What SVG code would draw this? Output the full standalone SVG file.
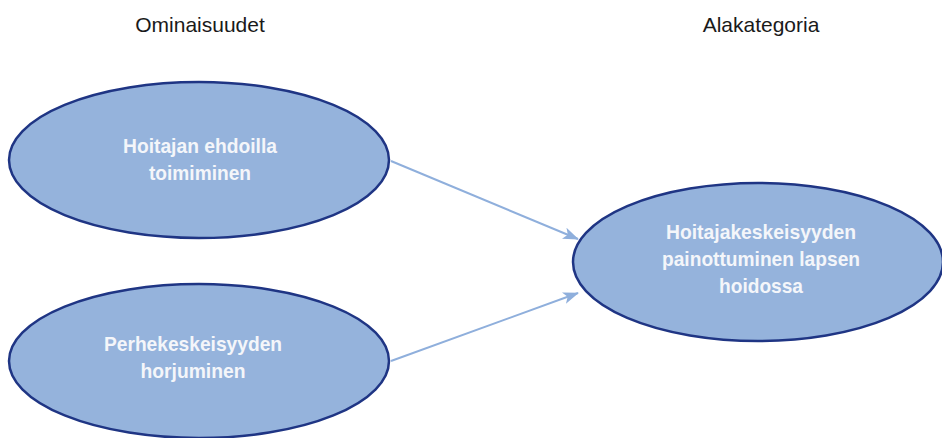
<svg xmlns="http://www.w3.org/2000/svg" width="942" height="438" viewBox="0 0 942 438">
  <style>
    .node ellipse { fill: #95b3dc; stroke: #1f3584; stroke-width: 2.5; }
    .node text { font-family: "Liberation Sans", Arial, sans-serif; font-weight: bold; font-size: 21px; fill: #f4f6fa; text-anchor: middle; }
    .title { font-family: "Liberation Sans", Arial, sans-serif; font-size: 21px; fill: #1a1a1a; text-anchor: middle; }
    .edge { stroke: #8fafdc; stroke-width: 2; fill: none; }
  </style>
  <defs>
    <marker id="arrow" viewBox="0 0 16 12" refX="15" refY="6" markerWidth="16" markerHeight="12" markerUnits="userSpaceOnUse" orient="auto">
      <path d="M0,0 L16,6 L0,12 L4,6 Z" fill="#8fafdc"/>
    </marker>
  </defs>
  <rect width="942" height="438" fill="#ffffff"/>

  <text class="title" x="200" y="32">Ominaisuudet</text>
  <text class="title" x="761" y="32">Alakategoria</text>

  <g id="connectors">
    <line class="edge" x1="391" y1="161" x2="578" y2="239" marker-end="url(#arrow)"/>
    <line class="edge" x1="391" y1="361" x2="578" y2="293" marker-end="url(#arrow)"/>
  </g>

  <g id="node-hoitajan" class="node">
    <ellipse cx="199" cy="160" rx="190" ry="78"/>
    <text x="200" y="153" textLength="154" lengthAdjust="spacingAndGlyphs">Hoitajan ehdoilla</text>
    <text x="200" y="180" textLength="102" lengthAdjust="spacingAndGlyphs">toimiminen</text>
  </g>

  <g id="node-perhekeskeisyyden" class="node">
    <ellipse cx="199" cy="361" rx="190" ry="77"/>
    <text x="193" y="351" textLength="178" lengthAdjust="spacingAndGlyphs">Perhekeskeisyyden</text>
    <text x="193" y="378" textLength="105" lengthAdjust="spacingAndGlyphs">horjuminen</text>
  </g>

  <g id="node-hoitajakeskeisyyden" class="node">
    <ellipse cx="758" cy="262" rx="185" ry="79"/>
    <text x="761" y="239" textLength="190" lengthAdjust="spacingAndGlyphs">Hoitajakeskeisyyden</text>
    <text x="761" y="266" textLength="198" lengthAdjust="spacingAndGlyphs">painottuminen lapsen</text>
    <text x="761" y="293" textLength="84" lengthAdjust="spacingAndGlyphs">hoidossa</text>
  </g>
</svg>
